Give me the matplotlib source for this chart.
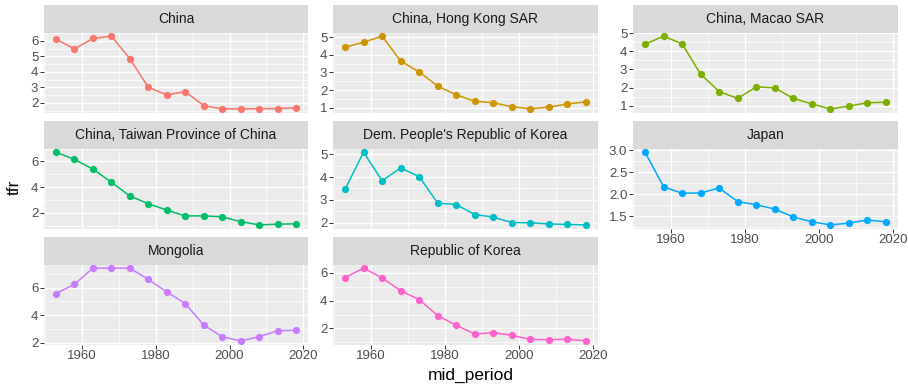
import matplotlib
matplotlib.use("Agg")
import matplotlib.pyplot as plt
from matplotlib.ticker import FixedLocator

plt.rcParams['font.family'] = ['Liberation Sans', 'DejaVu Sans']

# ---- data -------------------------------------------------------------
years = [1953, 1958, 1963, 1968, 1973, 1978, 1983, 1988, 1993, 1998, 2003, 2008, 2013, 2018]

countries = [
    "China",
    "China, Hong Kong SAR",
    "China, Macao SAR",
    "China, Taiwan Province of China",
    "Dem. People's Republic of Korea",
    "Japan",
    "Mongolia",
    "Republic of Korea",
]

tfr_china = [6.11, 5.48, 6.15, 6.30, 4.85, 3.01, 2.52, 2.73, 1.83, 1.62, 1.62, 1.63, 1.64, 1.69]
tfr_hong_kong = [4.44, 4.72, 5.07, 3.65, 3.03, 2.23, 1.73, 1.36, 1.28, 1.05, 0.93, 1.03, 1.21, 1.33]
tfr_macao = [4.39, 4.83, 4.41, 2.74, 1.79, 1.41, 2.05, 1.99, 1.42, 1.11, 0.84, 0.99, 1.18, 1.20]
tfr_taiwan = [6.72, 6.15, 5.40, 4.37, 3.30, 2.70, 2.20, 1.75, 1.75, 1.68, 1.30, 1.05, 1.10, 1.13]
tfr_dprk = [3.46, 5.09, 3.84, 4.40, 4.02, 2.86, 2.80, 2.36, 2.25, 2.01, 2.00, 1.95, 1.93, 1.91]
tfr_japan = [2.96, 2.17, 2.02, 2.03, 2.14, 1.83, 1.76, 1.66, 1.48, 1.37, 1.30, 1.34, 1.41, 1.37]
tfr_mongolia = [5.58, 6.26, 7.44, 7.44, 7.44, 6.61, 5.70, 4.85, 3.28, 2.42, 2.12, 2.42, 2.86, 2.90]
tfr_korea = [5.65, 6.33, 5.63, 4.71, 4.07, 2.92, 2.23, 1.60, 1.70, 1.51, 1.22, 1.19, 1.23, 1.11]

series = [tfr_china, tfr_hong_kong, tfr_macao, tfr_taiwan,
          tfr_dprk, tfr_japan, tfr_mongolia, tfr_korea]

y_breaks = [
    [2, 3, 4, 5, 6],
    [1, 2, 3, 4, 5],
    [1, 2, 3, 4, 5],
    [2, 4, 6],
    [2, 3, 4, 5],
    [1.5, 2.0, 2.5, 3.0],
    [2, 4, 6],
    [2, 4, 6],
]
y_labels = [
    ["2", "3", "4", "5", "6"],
    ["1", "2", "3", "4", "5"],
    ["1", "2", "3", "4", "5"],
    ["2", "4", "6"],
    ["2", "3", "4", "5"],
    ["1.5", "2.0", "2.5", "3.0"],
    ["2", "4", "6"],
    ["2", "4", "6"],
]

x_breaks = [1960, 1980, 2000, 2020]
x_minor = [1950, 1970, 1990, 2010]

colors = ["#F8766D", "#CD9600", "#7CAE00", "#00BE67",
          "#00BFC4", "#00A9FF", "#C77CFF", "#FF61CC"]

# ---- layout (pixels) --------------------------------------------------
W, H = 908, 384
col_x = [(44, 308), (333, 598), (633, 898)]
row_y = [(5, 32.5, 112.5), (121, 148.5, 228.5), (237, 264.5, 344.5)]
show_x_axis = {5, 6, 7}

fig = plt.figure(figsize=(W / 100, H / 100), dpi=100)
fig.patch.set_facecolor("white")

xmin, xmax = min(years), max(years)
xpad = 0.05 * (xmax - xmin)

for i, (name, vals) in enumerate(zip(countries, series)):
    r, c = divmod(i, 3)
    x0, x1 = col_x[c]
    s_top, p_top, p_bot = row_y[r]

    # strip
    sax = fig.add_axes([x0 / W, 1 - p_top / H, (x1 - x0) / W, (p_top - s_top) / H])
    sax.set_facecolor("#D9D9D9")
    sax.set_xticks([])
    sax.set_yticks([])
    for sp in sax.spines.values():
        sp.set_visible(False)
    sax.text(0.5, 0.5, name, ha="center", va="center", fontsize=10,
             color="#1A1A1A", transform=sax.transAxes)

    # panel
    ax = fig.add_axes([x0 / W, 1 - p_bot / H, (x1 - x0) / W, (p_bot - p_top) / H])
    ax.set_facecolor("#EBEBEB")
    for sp in ax.spines.values():
        sp.set_visible(False)

    ymin, ymax = min(vals), max(vals)
    ypad = 0.05 * (ymax - ymin)
    ax.set_xlim(xmin - xpad, xmax + xpad)
    ax.set_ylim(ymin - ypad, ymax + ypad)

    yb = y_breaks[i]
    step = yb[1] - yb[0]
    y_minor = [yb[0] - step / 2] + [v + step / 2 for v in yb]

    ax.xaxis.set_major_locator(FixedLocator(x_breaks))
    ax.xaxis.set_minor_locator(FixedLocator(x_minor))
    ax.yaxis.set_major_locator(FixedLocator(yb))
    ax.yaxis.set_minor_locator(FixedLocator(y_minor))
    ax.set_yticklabels(y_labels[i])

    ax.grid(which="major", color="white", linewidth=1.0)
    ax.grid(which="minor", color="white", linewidth=0.5)
    ax.set_axisbelow(True)

    ax.tick_params(axis="both", which="minor", length=0)
    ax.tick_params(axis="y", which="major", length=2.6, width=0.7, color="#333333",
                   labelsize=9.5, labelcolor="#4D4D4D", pad=1.5)
    if i in show_x_axis:
        ax.set_xticklabels([str(v) for v in x_breaks])
        ax.tick_params(axis="x", which="major", length=2.6, width=0.7, color="#333333",
                       labelsize=9.5, labelcolor="#4D4D4D", pad=1.5)
    else:
        ax.tick_params(axis="x", which="major", length=0, labelbottom=False)

    ax.plot(years, vals, color=colors[i], linewidth=1.1, marker="o",
            markersize=5.2, markeredgewidth=0, clip_on=False, zorder=3)

fig.text(14 / W, 1 - 187 / H, "tfr", rotation=90, ha="center", va="center",
         fontsize=12.5, color="black")
fig.text(471 / W, 1 - 375 / H, "mid_period", ha="center", va="center",
         fontsize=12.5, color="black")

fig.savefig("out.png", dpi=100, facecolor="white")
